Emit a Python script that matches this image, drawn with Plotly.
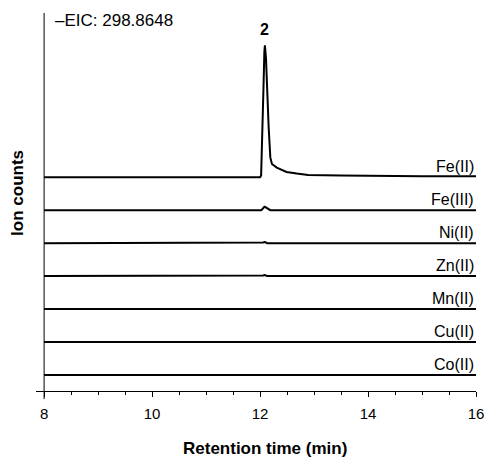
import plotly.graph_objects as go

# ---- data ----
time_min = [8.0, 9.0, 10.0, 11.0, 11.9, 12.0, 12.02, 12.04, 12.06, 12.08, 12.09,
            12.11, 12.13, 12.16, 12.19, 12.22, 12.31, 12.49, 12.68, 12.89, 13.5,
            14.0, 15.0, 16.0]

fe2 = [0.0, 0.0, 0.0, 0.0, 0.0, 0.0, 0.05, 1.0, 2.5, 3.8, 4.0,
       3.6, 2.6, 1.5, 0.6, 0.4, 0.29, 0.16, 0.11, 0.07, 0.05,
       0.04, 0.03, 0.03]
fe3 = [0.0, 0.0, 0.0, 0.0, 0.0, 0.0, 0.0, 0.03, 0.08, 0.1, 0.1,
       0.08, 0.04, 0.01, 0.0, 0.0, 0.0, 0.0, 0.0, 0.0, 0.0,
       0.0, 0.0, 0.0]
ni2 = [0.0] * 8 + [0.02, 0.03, 0.03, 0.02] + [0.0] * 12
zn2 = [0.0] * 8 + [0.02, 0.03, 0.03, 0.02] + [0.0] * 12
mn2 = [0.0] * 8 + [0.01, 0.02, 0.02, 0.01] + [0.0] * 12
cu2 = [0.0] * 8 + [0.01, 0.02, 0.02, 0.01] + [0.0] * 12
co2 = [0.0] * 8 + [0.01, 0.02, 0.02, 0.01] + [0.0] * 12

# bottom to top
trace_names = ["Co(II)", "Cu(II)", "Mn(II)", "Zn(II)", "Ni(II)", "Fe(III)", "Fe(II)"]
trace_values = [co2, cu2, mn2, zn2, ni2, fe3, fe2]

x_ticks = [8, 10, 12, 14, 16]
peak_label = "2"
peak_time = 12.09
eic_label = "\u2013EIC: 298.8648"

FONT = "Arial, Liberation Sans, sans-serif"

fig = go.Figure()
for i, (name, vals) in enumerate(zip(trace_names, trace_values)):
    fig.add_trace(go.Scatter(
        x=time_min, y=[v + i for v in vals], mode="lines",
        line=dict(color="black", width=2), name=name, showlegend=False,
        hoverinfo="skip"))
    fig.add_annotation(x=16, y=i, xref="x", yref="y", text=name,
                       showarrow=False, xanchor="right", yanchor="bottom",
                       yshift=0, font=dict(size=16, color="black", family=FONT))

top_idx = len(trace_names) - 1
fig.add_annotation(x=peak_time, y=top_idx + max(fe2), xref="x", yref="y",
                   text="<b>" + peak_label + "</b>", showarrow=False,
                   yanchor="bottom", yshift=5,
                   font=dict(size=16, color="black", family=FONT))

fig.add_annotation(x=8.17, y=0.979, xref="x", yref="paper", text=eic_label,
                   showarrow=False, xanchor="left", yanchor="middle",
                   font=dict(size=17, color="black", family=FONT))

fig.add_annotation(x=-0.041, y=0.524, xref="paper", yref="paper",
                   text="<b>Ion counts</b>", showarrow=False, textangle=-90,
                   xanchor="center", yanchor="middle",
                   font=dict(size=17, color="black", family=FONT))

fig.add_annotation(x=12.09, y=-0.151, xref="x", yref="paper",
                   text="<b>Retention time (min)</b>", showarrow=False,
                   xanchor="center", yanchor="middle",
                   font=dict(size=17, color="black", family=FONT))

# y axis line (crosses below x axis)
fig.add_shape(type="line", xref="x", yref="paper", x0=8, x1=8,
              y0=-8 / 378, y1=1, line=dict(color="black", width=1))

fig.update_xaxes(range=[7.85, 16], showline=True, linecolor="black",
                 linewidth=1, ticks="outside", tickvals=x_ticks, ticklen=5,
                 tickcolor="black", showgrid=False, zeroline=False,
                 ticklabelstandoff=4, automargin=False,
                 tickfont=dict(size=15, color="black", family=FONT),
                 minor=dict(dtick=0.5, tick0=8, ticks="outside", ticklen=3,
                            tickcolor="black", showgrid=False))
fig.update_yaxes(range=[-0.485, 10.98], visible=False, automargin=False)

fig.update_layout(width=486, height=459,
                  margin=dict(l=36, r=10, t=13, b=68, autoexpand=False),
                  plot_bgcolor="white", paper_bgcolor="white",
                  font=dict(family=FONT, color="black"))

fig.write_html("out.html")
